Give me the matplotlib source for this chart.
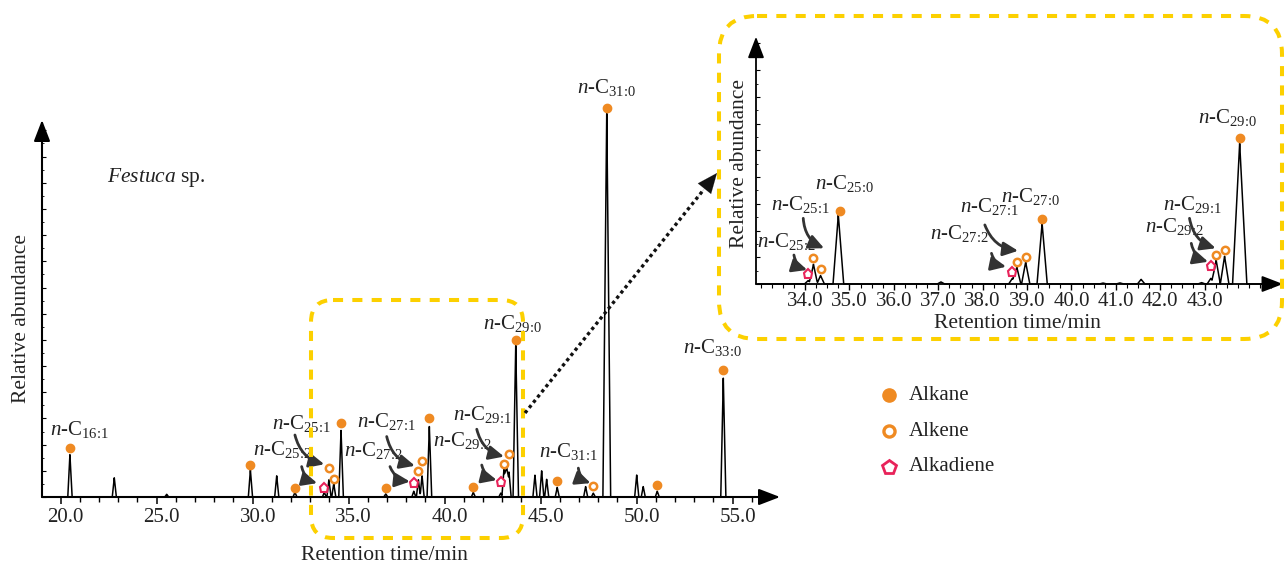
"""
Gas chromatogram of Festuca sp. leaf wax with a zoomed inset (33-44 min)
"""
import numpy as np
import matplotlib
matplotlib.use('Agg')
import matplotlib.pyplot as plt
from matplotlib.patches import FancyBboxPatch
from matplotlib.ticker import FixedLocator, MultipleLocator, FormatStrFormatter
from matplotlib.transforms import ScaledTranslation

plt.rcParams['font.family'] = ['Liberation Serif', 'DejaVu Serif']
plt.rcParams['mathtext.fontset'] = 'custom'
plt.rcParams['mathtext.rm'] = 'Liberation Serif'
plt.rcParams['mathtext.it'] = 'Liberation Serif:italic'

# ---- main chromatogram: peaks (retention time, relative height) ----
main_peak_time = [20.48, 22.79, 25.52, 29.88, 31.25, 32.2, 33.73, 33.97, 34.22, 34.6,
                  36.93, 38.39, 38.63, 38.82, 39.2, 41.49, 42.92, 43.09, 43.22, 43.35,
                  43.7, 44.7, 45.05, 45.31, 45.86, 47.34, 47.74, 48.44, 50.0, 50.34,
                  51.07, 54.51]
main_peak_height = [11, 5, 0.7, 7, 5.5, 1.2, 1.2, 4.5, 3.5, 17.4,
                    0.8, 1.5, 4.5, 5.5, 18.3, 1.2, 1.0, 7.5, 9, 6.5,
                    39.5, 5.7, 6.8, 4.6, 2.5, 2.7, 1.0, 100, 5.7, 2.7,
                    1.5, 31]

main_alkane_t = [20.48, 29.88, 32.2, 34.6, 36.93, 39.2, 41.49, 43.7, 45.86, 48.44, 51.07, 54.51]
main_alkane_y = [12.8, 8.4, 2.4, 19.3, 2.4, 20.4, 2.7, 40.8, 4.2, 101, 3.1, 33]
main_alkene_t = [33.97, 34.22, 38.63, 38.82, 43.09, 43.35, 47.74]
main_alkene_y = [7.5, 4.7, 6.75, 9.35, 8.65, 11.1, 2.9]
main_diene_t = [33.73, 38.39, 42.92]
main_diene_y = [2.4, 3.6, 4.0]

main_label_text = ['16:1', '25:1', '25:2', '27:1', '27:2', '29:1', '29:2', '29:0', '31:0', '33:0', '31:1']
main_label_t = [19.44, 30.99, 30.0, 35.45, 34.76, 40.42, 39.38, 41.98, 46.88, 52.43, 44.93]
main_label_y = [16.1, 17.6, 10.9, 18.3, 10.7, 20.0, 13.3, 43.6, 104.9, 37.3, 10.5]

main_arrow_t0 = [32.2, 32.55, 36.98, 37.15, 41.67, 41.93, 46.96]
main_arrow_y0 = [16.1, 7.9, 15.7, 7.9, 17.6, 8.3, 7.5]
main_arrow_t1 = [33.73, 33.36, 38.45, 38.19, 43.09, 42.71, 47.6]
main_arrow_y1 = [8.5, 3.6, 8.1, 4.0, 10.5, 4.4, 3.6]

# ---- inset chromatogram (33-44 min) ----
inset_peak_time = [34.07, 34.19, 34.35, 34.75, 37.06, 38.67, 38.77, 38.97, 39.34, 40.71,
                   41.09, 41.57, 42.93, 43.14, 43.26, 43.45, 43.79]
inset_peak_height = [2.5, 14, 6, 49, 1.5, 4, 12, 15.5, 43, 0.7,
                     0.8, 3.3, 1.0, 4, 17, 19.7, 100]

inset_alkane_t = [34.78, 39.34, 43.79]
inset_alkane_y = [51.9, 46.2, 104]
inset_alkene_t = [34.19, 34.35, 38.77, 38.97, 43.26, 43.45]
inset_alkene_y = [18.7, 10.4, 15.8, 19.4, 20.6, 24.2]
inset_diene_t = [34.07, 38.67, 43.14]
inset_diene_y = [7.1, 8.7, 13]

inset_label_text = ['25:0', '25:1', '25:2', '27:0', '27:1', '27:2', '29:0', '29:1', '29:2']
inset_label_t = [34.23, 33.23, 32.91, 38.42, 37.49, 36.82, 42.85, 42.06, 41.65]
inset_label_y = [67.3, 52.6, 26.5, 58.5, 51.0, 31.8, 114.2, 52.6, 37.2]

inset_arrow_t0 = [33.96, 33.75, 38.05, 38.2, 42.66, 42.7]
inset_arrow_y0 = [46.7, 20.6, 42.0, 21.8, 46.7, 28.9]
inset_arrow_t1 = [34.43, 34.05, 38.8, 38.53, 43.25, 43.08]
inset_arrow_y1 = [25.4, 10.0, 23.6, 12.3, 25.4, 15.8]

legend_labels = ['Alkane', 'Alkene', 'Alkadiene']

ORANGE = '#EF8A22'
PINK = '#E8235A'
YELLOW = '#FCD000'
INK = '#222222'
W, H = 1286, 566


def px_rect(left, top, right, bottom):
    return [left / W, 1 - bottom / H, (right - left) / W, (bottom - top) / H]


def trace(ax, t0, t1, times, heights, base_w):
    x = np.linspace(t0, t1, 20000)
    y = np.zeros_like(x)
    for t, h in zip(times, heights):
        w = base_w * (1 + h / 100)
        y += np.interp(x, [t - w, t, t + w], [0, h, 0])
    ax.plot(x, y, color='black', lw=1.1, clip_on=False, zorder=3)


def markers(ax, at, ay, et, ey, dt, dy):
    ax.plot(at, ay, 'o', ms=6, color=ORANGE, mec=ORANGE, ls='none', clip_on=False, zorder=5)
    ax.plot(et, ey, 'o', ms=5.3, mfc='white', mec=ORANGE, mew=1.8, ls='none', clip_on=False, zorder=5)
    ax.plot(dt, dy, 'p', ms=6.5, mfc='white', mec=PINK, mew=1.5, ls='none', clip_on=False, zorder=5)


def labels(ax, texts, ts, ys, size=15):
    for s, t, y in zip(texts, ts, ys):
        sub = s.replace(':', r'\!:\!')
        ax.text(t, y, r'$\mathit{n}$-C$_{%s}$' % sub, fontsize=size, color=INK,
                ha='left', va='baseline', zorder=6)


def pointers(ax, t0, y0, t1, y1):
    for a, b, c, d in zip(t0, y0, t1, y1):
        ax.annotate('', xy=(c, d), xytext=(a, b),
                    arrowprops=dict(arrowstyle='-|>,head_length=0.6,head_width=0.28',
                                    mutation_scale=15, lw=2.0, color='#333333',
                                    connectionstyle='arc3,rad=0.3',
                                    shrinkA=0, shrinkB=0), zorder=6)


def axis_arrows(ax, lw):
    x0, x1 = ax.get_xlim()
    y0, y1 = ax.get_ylim()
    style = dict(arrowstyle='-|>,head_length=1.3,head_width=0.5', mutation_scale=10,
                 lw=lw, color='black', shrinkA=0, shrinkB=0)
    ax.annotate('', xy=(x1, 0), xytext=(x0, 0), arrowprops=style, zorder=4, annotation_clip=False)
    ax.annotate('', xy=(x0, y1), xytext=(x0, 0), arrowprops=style, zorder=4, annotation_clip=False)
    for sp in ax.spines.values():
        sp.set_visible(False)
    ax.patch.set_alpha(0)


fig = plt.figure(figsize=(W / 100, H / 100), dpi=100)

# ---- main axes ----
ax = fig.add_axes(px_rect(42, 120, 780, 497))
ax.set_xlim(19.026, 57.464)
ax.set_ylim(0, 97.9)
trace(ax, 19.1, 56.04, main_peak_time, main_peak_height, 0.1)
markers(ax, main_alkane_t, main_alkane_y, main_alkene_t, main_alkene_y, main_diene_t, main_diene_y)
labels(ax, main_label_text, main_label_t, main_label_y)
pointers(ax, main_arrow_t0, main_arrow_y0, main_arrow_t1, main_arrow_y1)
axis_arrows(ax, 1.5)
ax.xaxis.set_major_locator(FixedLocator([20, 25, 30, 35, 40, 45, 50, 55]))
ax.xaxis.set_minor_locator(FixedLocator(np.arange(20, 57)))
ax.xaxis.set_major_formatter(FormatStrFormatter('%.1f'))
ax.yaxis.set_major_locator(MultipleLocator(6.8))
ax.yaxis.set_minor_locator(MultipleLocator(3.4))
ax.tick_params(axis='x', which='major', direction='out', length=5, width=1.1,
               labelsize=15, pad=3, labelcolor=INK)
ax.tick_params(axis='x', which='minor', direction='out', length=3.5, width=1.0)
ax.tick_params(axis='y', which='major', direction='in', length=3, width=0.8, labelleft=False)
ax.tick_params(axis='y', which='minor', direction='in', length=1.5, width=0.6)
for lab in ax.get_xticklabels():
    lab.set_transform(lab.get_transform() + ScaledTranslation(0.05, 0, fig.dpi_scale_trans))
ax.text(22.43, 81.9, r'$\mathit{Festuca}$ sp.', fontsize=15.5, color=INK, ha='left', va='baseline')

# ---- inset axes ----
ins = fig.add_axes(px_rect(756, 36.7, 1283, 284))
ins.set_xlim(32.896, 44.766)
ins.set_ylim(0, 175.8)
trace(ins, 32.95, 44.28, inset_peak_time, inset_peak_height, 0.08)
markers(ins, inset_alkane_t, inset_alkane_y, inset_alkene_t, inset_alkene_y, inset_diene_t, inset_diene_y)
labels(ins, inset_label_text, inset_label_t, inset_label_y)
pointers(ins, inset_arrow_t0, inset_arrow_y0, inset_arrow_t1, inset_arrow_y1)
axis_arrows(ins, 1.3)
ins.xaxis.set_major_locator(FixedLocator(np.arange(34, 44)))
ins.xaxis.set_minor_locator(FixedLocator(np.arange(33, 44.6, 0.25)))
ins.xaxis.set_major_formatter(FormatStrFormatter('%.1f'))
ins.yaxis.set_major_locator(MultipleLocator(19))
ins.yaxis.set_minor_locator(MultipleLocator(9.5))
ins.tick_params(axis='x', which='major', direction='out', length=4, width=1.0,
                labelsize=15, pad=2, labelcolor=INK)
ins.tick_params(axis='x', which='minor', direction='out', length=3, width=0.8)
ins.tick_params(axis='y', which='major', direction='in', length=3, width=0.8, labelleft=False)
ins.tick_params(axis='y', which='minor', direction='in', length=1.5, width=0.6)

# ---- overlay in pixel coordinates: axis titles, boxes, zoom arrow, legend ----
ov = fig.add_axes([0, 0, 1, 1], zorder=10)
ov.set_xlim(0, W)
ov.set_ylim(H, 0)
ov.axis('off')
ov.patch.set_alpha(0)

ov.text(21.7, 318.5, 'Relative abundance', rotation=90, fontsize=15.5, color=INK, ha='center', va='center')
ov.text(384.5, 560, 'Retention time/min', fontsize=15.5, color=INK, ha='center', va='baseline')
ov.text(740, 163.3, 'Relative abundance', rotation=90, fontsize=15.5, color=INK, ha='center', va='center')
ov.text(1017.7, 328.3, 'Retention time/min', fontsize=15.5, color=INK, ha='center', va='baseline')

for (l, t, r, b, rad) in [(311, 300, 523, 538, 22), (719, 16, 1282, 339, 38)]:
    ov.add_patch(FancyBboxPatch((l, t), r - l, b - t, boxstyle=f'round,pad=0,rounding_size={rad}',
                                fill=False, ec=YELLOW, lw=2.9, ls=(0, (2.5, 2.3))))

sx, sy, ex, ey = 525, 413, 717, 173
f = 0.93
ov.plot([sx, sx + (ex - sx) * f], [sy, sy + (ey - sy) * f], color='#111111', lw=2.4, ls=(0, (1, 1)))
ov.annotate('', xy=(ex, ey), xytext=(sx + (ex - sx) * 0.9, sy + (ey - sy) * 0.9),
            arrowprops=dict(arrowstyle='-|>,head_length=1.3,head_width=0.55', mutation_scale=11,
                            lw=0.1, color='#111111', shrinkA=0, shrinkB=0))

leg_y = [395, 431, 466.7]
ov.plot(889.3, leg_y[0], 'o', ms=9.5, color=ORANGE)
ov.plot(889.3, leg_y[1], 'o', ms=8, mfc='white', mec=ORANGE, mew=2.4)
ov.plot(889.3, leg_y[2], 'p', ms=10, mfc='white', mec=PINK, mew=2)
for s, y in zip(legend_labels, leg_y):
    ov.text(908.3, y, s, fontsize=15, color=INK, ha='left', va='center')

fig.savefig('out.png', dpi=100)
